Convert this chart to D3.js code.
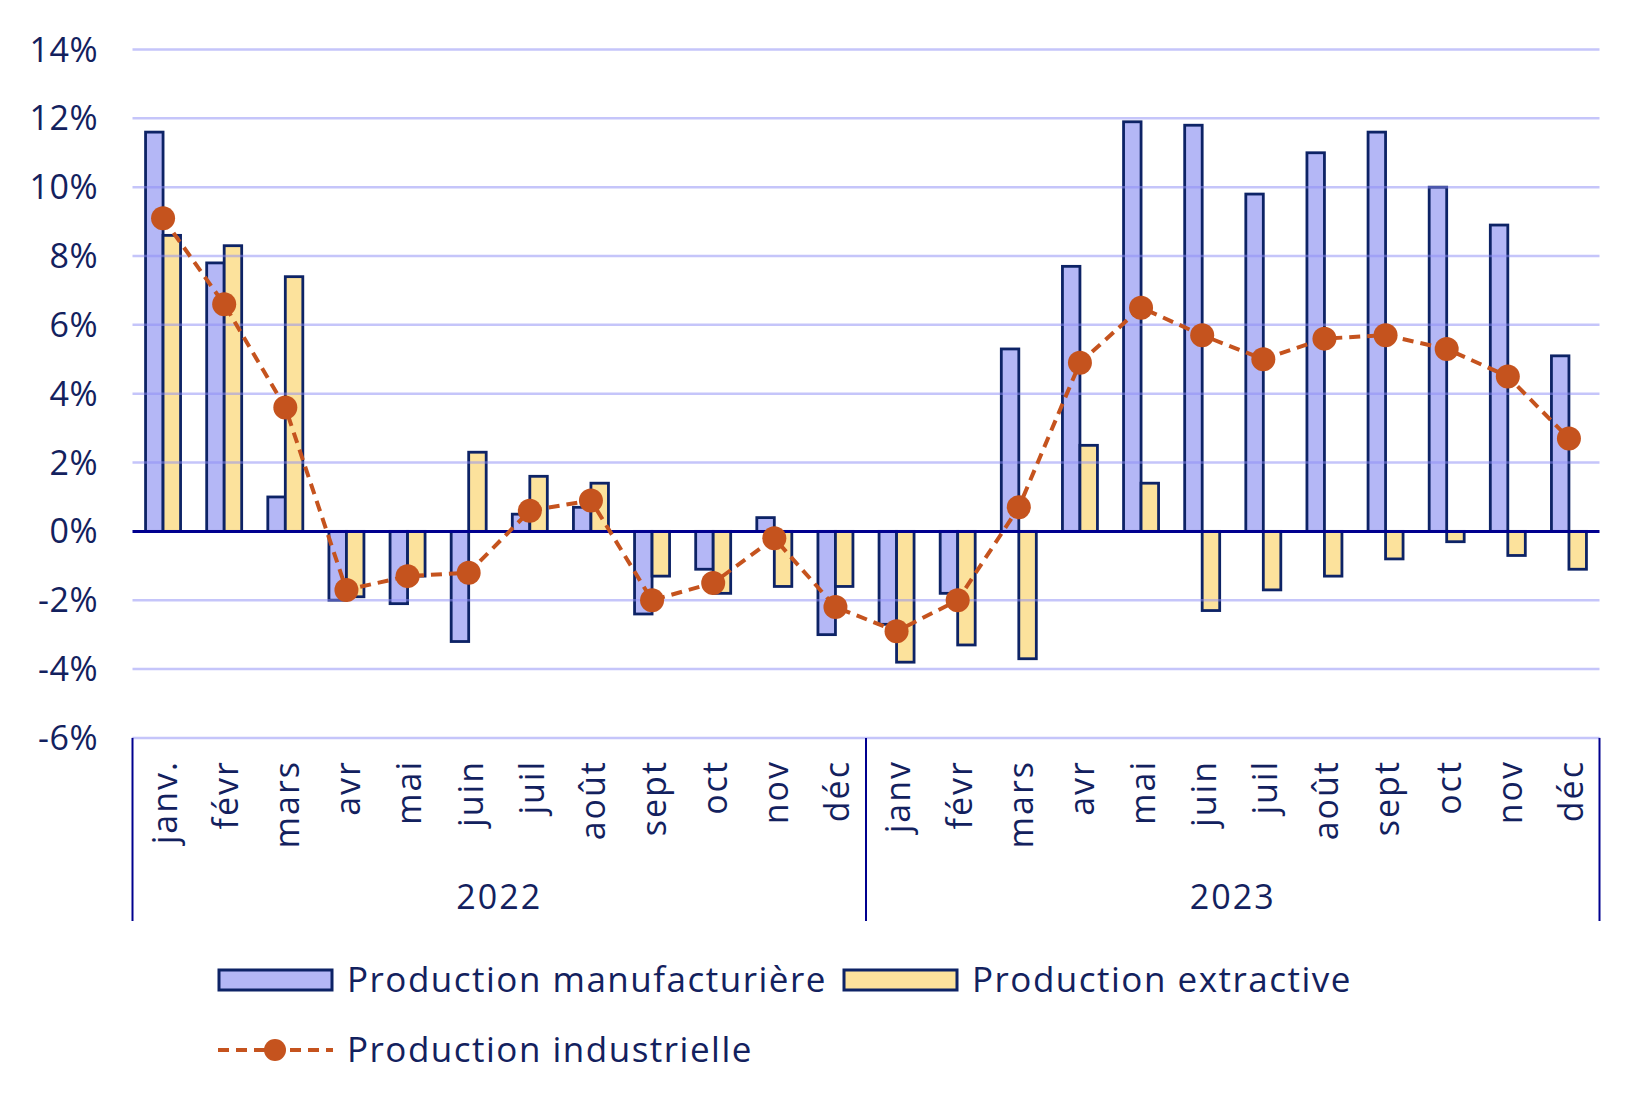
<!DOCTYPE html>
<html><head><meta charset="utf-8">
<script src="https://cdn.jsdelivr.net/npm/d3@7"></script>
<style>
body{margin:0;background:#fff}
text{font-family:"Open Sans",sans-serif;fill:#13215e}
</style>
</head><body>
<svg id="c" width="1650" height="1109"></svg>
<script>
const months = ["janv.","févr","mars","avr","mai","juin","juil","août","sept","oct","nov","déc",
                "janv","févr","mars","avr","mai","juin","juil","août","sept","oct","nov","déc"];
const years = ["2022","2023"];
const manuf = [11.6, 7.8, 1.0, -2.0, -2.1, -3.2, 0.5, 0.7, -2.4, -1.1, 0.4, -3.0,
               -2.7, -1.8, 5.3, 7.7, 11.9, 11.8, 9.8, 11.0, 11.6, 10.0, 8.9, 5.1];
const extr  = [8.6, 8.3, 7.4, -1.9, -1.3, 2.3, 1.6, 1.4, -1.3, -1.8, -1.6, -1.6,
               -3.8, -3.3, -3.7, 2.5, 1.4, -2.3, -1.7, -1.3, -0.8, -0.3, -0.7, -1.1];
const indus = [9.1, 6.6, 3.6, -1.7, -1.3, -1.2, 0.6, 0.9, -2.0, -1.5, -0.2, -2.2,
               -2.9, -2.0, 0.7, 4.9, 6.5, 5.7, 5.0, 5.6, 5.7, 5.3, 4.5, 2.7];
const yTicks = [-6, -4, -2, 0, 2, 4, 6, 8, 10, 12, 14];
const seriesNames = ["Production manufacturière", "Production extractive", "Production industrielle"];

const navy = "#0d2366", blueFill = "#b4b7f6", yellowFill = "#fce29c", orange = "#c5531e";
const svg = d3.select("#c");
const L = 132.5, R = 1599.5, T = 49.5, B = 737.9;

const x = d3.scaleBand().domain(d3.range(months.length)).range([L, R]).padding(0);
const x1 = d3.scaleBand().domain([0, 1]).range([-17.5, 17.5]);
const y = d3.scaleLinear().domain([-6, 14]).range([B, T]);
const cx = i => x(i) + x.bandwidth() / 2;

// bars
const g = svg.append("g");
[[manuf, blueFill, 0], [extr, yellowFill, 1]].forEach(([vals, fill, k]) => {
  g.selectAll(null).data(vals).join("rect")
    .attr("x", (d, i) => cx(i) + x1(k))
    .attr("width", x1.bandwidth())
    .attr("y", d => y(Math.max(0, d)))
    .attr("height", d => Math.abs(y(d) - y(0)))
    .attr("fill", fill).attr("stroke", navy).attr("stroke-width", 2.8);
});

// gridlines (over bars, translucent)
svg.append("g").selectAll("line").data(yTicks.filter(t => t !== 0)).join("line")
  .attr("x1", L).attr("x2", R).attr("y1", d => y(d)).attr("y2", d => y(d))
  .attr("stroke", "rgba(140,140,245,0.5)").attr("stroke-width", 2.5);

// y axis labels
const yAxis = d3.axisLeft(y).tickValues(yTicks).tickFormat(d => d + "%").tickSize(0).tickPadding(0);
const ya = svg.append("g").attr("transform", `translate(98,0)`).call(yAxis);
ya.select(".domain").remove();
ya.selectAll("text").style("font-size", "34px").style("letter-spacing", "0.5px")
  .attr("fill", "#13215e").attr("dy", "0.34em");

// zero line
svg.append("line").attr("x1", L).attr("x2", R).attr("y1", y(0)).attr("y2", y(0))
  .attr("stroke", "#00008f").attr("stroke-width", 3);

// category axis separators
const sepX = [L, x(12), R];
svg.append("g").selectAll("line").data(sepX).join("line")
  .attr("x1", d => d).attr("x2", d => d).attr("y1", B).attr("y2", 921)
  .attr("stroke", "#00008f").attr("stroke-width", 2);

// month labels
svg.append("g").selectAll("text").data(months).join("text")
  .attr("transform", (d, i) => `translate(${cx(i) + 2},760) rotate(-90)`)
  .attr("text-anchor", "end").attr("dy", "0.35em")
  .style("font-size", "34px").style("letter-spacing", "2px").text(d => d);

// year labels
svg.append("g").selectAll("text").data(years).join("text")
  .attr("x", (d, k) => (x(k * 12) + (k === 0 ? x(12) : R)) / 2)
  .attr("y", 897).attr("dy", "0.35em").attr("text-anchor", "middle")
  .style("font-size", "34px").style("letter-spacing", "2px").text(d => d);

// industrial line
const line = d3.line().x((d, i) => cx(i)).y(d => y(d));
svg.append("path").datum(indus).attr("d", line).attr("fill", "none")
  .attr("stroke", orange).attr("stroke-width", 4).attr("stroke-dasharray", "11,7");
svg.append("g").selectAll("circle").data(indus).join("circle")
  .attr("cx", (d, i) => cx(i)).attr("cy", d => y(d)).attr("r", 12).attr("fill", orange);

// legend
const lg = svg.append("g");
const legendFont = t => t.style("font-size", "35px").style("letter-spacing", "1.5px");
lg.append("rect").attr("x", 219).attr("y", 970).attr("width", 113).attr("height", 20)
  .attr("fill", blueFill).attr("stroke", navy).attr("stroke-width", 3);
lg.append("text").attr("x", 347).attr("y", 980).attr("dy", "0.35em").call(legendFont).text(seriesNames[0]);
lg.append("rect").attr("x", 844).attr("y", 970).attr("width", 113).attr("height", 20)
  .attr("fill", yellowFill).attr("stroke", navy).attr("stroke-width", 3);
lg.append("text").attr("x", 972).attr("y", 980).attr("dy", "0.35em").call(legendFont).text(seriesNames[1]);
lg.append("line").attr("x1", 218).attr("x2", 333).attr("y1", 1050).attr("y2", 1050)
  .attr("stroke", orange).attr("stroke-width", 4).attr("stroke-dasharray", "11,7");
lg.append("circle").attr("cx", 275).attr("cy", 1050).attr("r", 11).attr("fill", orange);
lg.append("text").attr("x", 347).attr("y", 1050).attr("dy", "0.35em").call(legendFont).text(seriesNames[2]);
</script>
</body></html>
